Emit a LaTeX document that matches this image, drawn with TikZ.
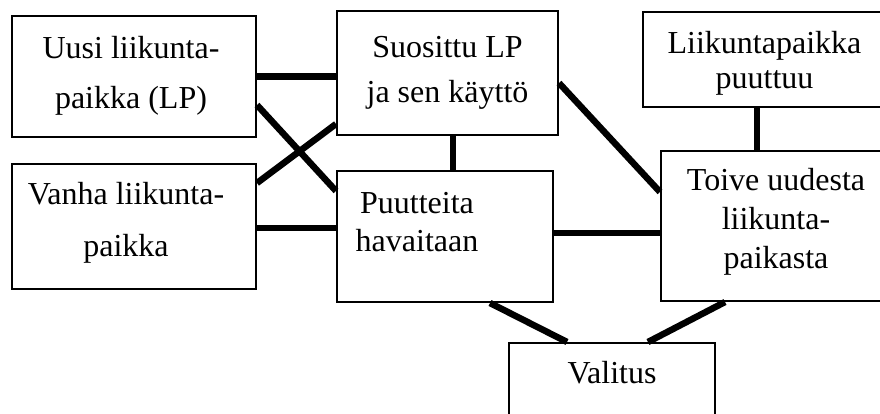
\documentclass[tikz,border=0pt]{standalone}
\usepackage{fontspec}
\setmainfont{Liberation Serif}
\usepackage{tikz}

\tikzset{
  box/.style={draw=black, line width=2pt, rectangle, inner sep=0pt},
  boxtext/.style={inner sep=0pt, align=center, font=\fontsize{32}{37}\selectfont},
  link/.style={draw=black, line width=6.5pt},
}

\begin{document}
\begin{tikzpicture}[x=1pt,y=-1pt]
\clip (0,0) rectangle (880,414);
% boxes:
\node[box, minimum width=244pt, minimum height=121pt] (uusi) at (134,76.5) {};
\node[box, minimum width=221pt, minimum height=124pt] (suos) at (447.5,73) {};
\node[box, minimum width=243pt, minimum height=95pt] (liik) at (764.5,59.5) {};
\node[box, minimum width=244pt, minimum height=125pt] (vanha) at (134,226.5) {};
\node[box, minimum width=216pt, minimum height=131pt] (puut) at (445,236.5) {};
\node[box, minimum width=232pt, minimum height=150pt] (toive) at (777,226) {};
\node[box, minimum width=206pt, minimum height=87pt] (valitus) at (612,386.5) {};
% texts:
\node[boxtext] (uusi-txt) at (131,75.5) {Uusi liikunta-\\[13pt]paikka (LP)};
\node[boxtext] (suos-txt) at (447.5,73) {Suosittu LP\\[8pt]ja sen käyttö};
\node[boxtext] (liik-txt) at (764.5,63) {Liikuntapaikka\\[-2pt]puuttuu};
\node[boxtext] (vanha-txt) at (126,222.5) {Vanha liikunta-\\[15pt]paikka};
\node[boxtext] (puut-txt) at (417,222) {Puutteita\\[1pt]havaitaan};
\node[boxtext] (toive-txt) at (776,222) {Toive uudesta\\[2pt]liikunta-\\[2pt]paikasta};
\node[boxtext] (valitus-txt) at (612,373) {Valitus};
% links:
\draw[link] (uusi.east) -- ([yshift=-3.5pt]suos.west);
\draw[link] ([yshift=-28.5pt]uusi.east) -- ([yshift=45.5pt]puut.west);
\draw[link] ([yshift=43.5pt]vanha.east) -- ([yshift=-51pt]suos.west);
\draw[link] ([yshift=-1.5pt]vanha.east) -- ([yshift=8.5pt]puut.west);
\draw[link] ([xshift=5.5pt]suos.south) -- ([xshift=8pt]puut.north);
\draw[link] ([yshift=-10pt]suos.east) -- ([yshift=34pt]toive.west);
\draw[link] ([xshift=-7.5pt]liik.south) -- ([xshift=-20pt]toive.north);
\draw[link] ([yshift=3.5pt]puut.east) -- ([yshift=-7pt]toive.west);
\draw[link] ([xshift=45pt]puut.south) -- ([xshift=-45pt]valitus.north);
\draw[link] ([xshift=-52pt]toive.south) -- ([xshift=36pt]valitus.north);
\end{tikzpicture}
\end{document}
